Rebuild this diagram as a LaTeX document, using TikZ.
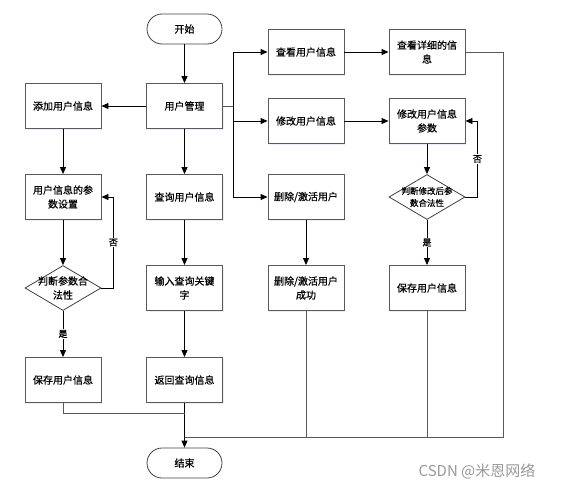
\documentclass[tikz,border=0pt]{standalone}
\usepackage{fontspec}
\newfontfamily\cjk[FakeBold=0.6]{Noto Sans CJK SC}
\newfontfamily\wmfont{Noto Sans CJK SC}
\usetikzlibrary{arrows.meta,shapes.geometric,shadows}
\tikzset{%
  procbox/.style  = {shape=rectangle, draw=black!65, line width=0.9pt,%
                     fill=white, align=center, inner sep=2pt,%
                     minimum width=76pt, minimum height=45pt,%
                     drop shadow={shadow xshift=1pt, shadow yshift=-1.5pt, opacity=0.3, fill=blue!25}},%
  termnode/.style = {shape=rectangle, rounded corners=15pt, draw=black!75,%
                     line width=0.8pt, minimum width=75pt, minimum height=30pt},%
  decide/.style   = {shape=diamond, draw=black!75, line width=0.8pt,%
                     inner sep=0pt, minimum width=76pt, minimum height=45pt},%
  flow/.style     = {-{Triangle[length=7pt,width=6pt]}, line width=0.9pt},%
  feed/.style     = {line width=0.9pt, draw=black!65},%
  tag/.style      = {font=\cjk\fontsize{9}{10}\selectfont, fill=white, inner sep=1pt}%
}

\begin{document}
\begin{tikzpicture}[x=1pt,y=-1pt,every node/.style={font=\cjk\fontsize{10}{14}\selectfont}]
		\useasboundingbox (0,0) rectangle (561,490);
		% middle column
		\node[termnode] (start)  at (184.5,29)  {开始};
		\node[procbox]  (manage) at (184.5,106) {用户管理};
		\node[procbox]  (query)  at (184.5,197) {查询用户信息};
		\node[procbox]  (input)  at (184.5,288) {输入查询关键\\字};
		\node[procbox]  (ret)    at (184.5,380) {返回查询信息};
		\node[termnode] (stop)   at (184.5,463) {结束};
		% left column
		\node[procbox] (add)   at (63,106) {添加用户信息};
		\node[procbox] (param) at (63,197) {用户信息的参\\数设置};
		\node[decide, label={[align=center]center:判断参数合\\法性}] (check) at (63,288) {};
		\node[procbox] (saveA) at (63,380) {保存用户信息};
		% right columns
		\node[procbox] (view)   at (306,52)  {查看用户信息};
		\node[procbox] (detail) at (427,52)  {查看详细的信\\息};
		\node[procbox] (edit)   at (306,121) {修改用户信息};
		\node[procbox] (editp)  at (427,121) {修改用户信息\\参数};
		\node[procbox] (del)    at (306,197) {删除/激活用户};
		\node[decide, label={[align=center, font=\cjk\fontsize{8.5}{12}\selectfont]center:判断修改后参\\数合法性}] (checkB) at (427,197) {};
		\node[procbox] (delok)  at (306,288) {删除/激活用户\\成功};
		\node[procbox] (saveB)  at (427,288) {保存用户信息};
		\coordinate (fork)  at (233,106);
		\coordinate (joinA) at (184.5,413);
		\coordinate (merge) at (184.5,437);
		% connectors
		\draw[flow] (start) -- (manage);
		\draw[flow] (manage) -- (add);
		\draw[flow] (add) -- (param);
		\draw[flow] (param) -- (check);
		\draw[flow] (check.east) -- ++(12,0) |- node[tag,pos=0.25] {否} (param.east);
		\draw[flow] (check) -- node[tag] {是} (saveA);
		\draw[flow] (manage) -- (query);
		\draw[flow] (query) -- (input);
		\draw[flow] (input) -- (ret);
		\draw[flow] (ret) -- (stop);
		\draw[feed] (manage.east) -- (fork);
		\draw[flow] (fork) |- (view);
		\draw[flow] (fork) |- (edit);
		\draw[flow] (fork) |- (del);
		\draw[flow] (view) -- (detail);
		\draw[flow] (edit) -- (editp);
		\draw[flow] (editp) -- (checkB);
		\draw[flow] (checkB.east) -- ++(12,0) |- node[tag,pos=0.25] {否} (editp.east);
		\draw[flow] (checkB) -- node[tag] {是} (saveB);
		\draw[flow] (del) -- (delok);
		\draw[feed] (saveA.south) |- (joinA);
		\draw[feed] (detail.east) -- ++(38,0) |- (merge);
		\draw[feed] (delok) -- (delok |- merge);
		\draw[feed] (saveB) -- (saveB |- merge);
		% watermark
		\node[font=\wmfont\fontsize{15}{18}\selectfont, text=black!40] (mark) at (477,471) {CSDN @米恩网络};
	\end{tikzpicture}
\end{document}
